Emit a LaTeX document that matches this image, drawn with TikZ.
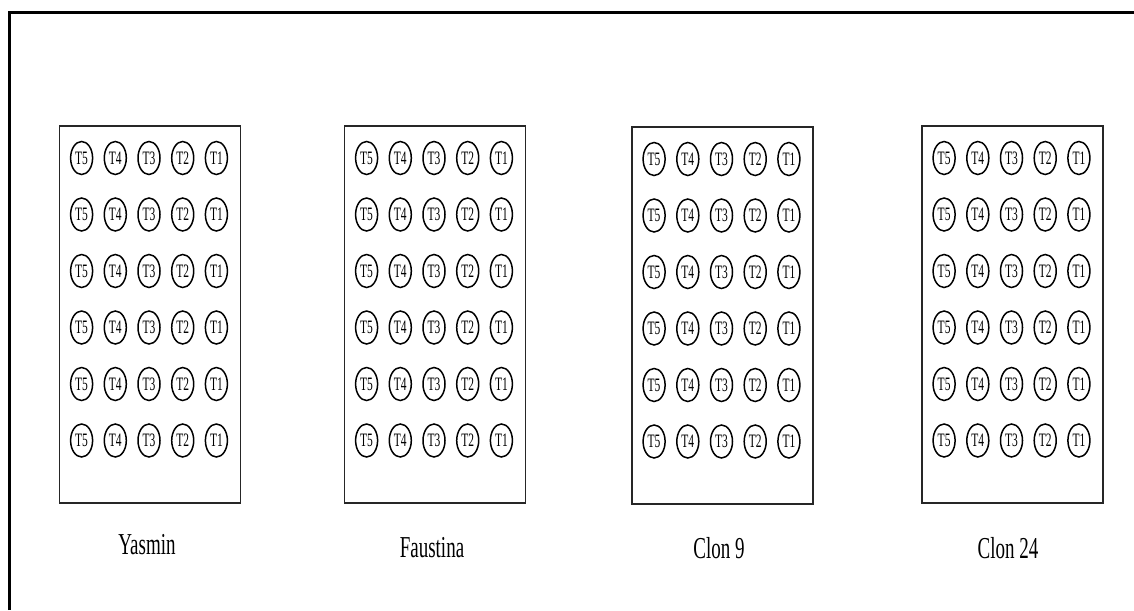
\documentclass[tikz,border=0pt]{standalone}
\usepackage{fontspec}
\setmainfont{Liberation Serif}
\usetikzlibrary{shapes.geometric}
\begin{document}
\begin{tikzpicture}[x=1pt,y=-1pt,
  plotbox/.style={draw=black!85, line width=1.8pt, minimum width=181pt, minimum height=377pt, inner sep=0pt, anchor=north west},
  plant/.style={draw, ellipse, line width=1.5pt, minimum width=22pt, minimum height=33pt, inner sep=0pt, font=\fontsize{11.5}{11.5}\selectfont},
  lbl/.style={font=\fontsize{19}{19}\selectfont, inner sep=0pt},
  outer/.style={line width=3pt}]
\useasboundingbox (0,0) rectangle (1134,610);
\coordinate (fb) at (9,610);
\coordinate (fc) at (9,13);
\coordinate (fr) at (1134,13);
\draw[outer] (fb) -- (fc) -- (fr);
% boxes: name / left / top / label x / label y / label text
\foreach \nm/\lx/\ty/\tx/\tyy/\txt in {Y/58.5/125/147/545/Yasmin, F/343.5/125/432/548/Faustina, C9/631/126/719/548/Clon 9, C24/921/125/1008/548/Clon 24}{
  \node[plotbox] (box\nm) at (\lx,\ty) {};
  \foreach \r in {0,...,5}{
    \foreach \c in {1,...,5}{
      \pgfmathtruncatemacro\tn{6-\c}
      \node[plant] (\nm-\r-\c) at ({\lx+90.5+(\c-3)*33.7},{\ty+33+56.5*\r}) {\scalebox{1}[1.65]{T\tn}};
    }
  }
  \node[lbl] (lab\nm) at (\tx,\tyy) {\scalebox{1}[1.6]{\txt}};
}
\end{tikzpicture}
\end{document}
